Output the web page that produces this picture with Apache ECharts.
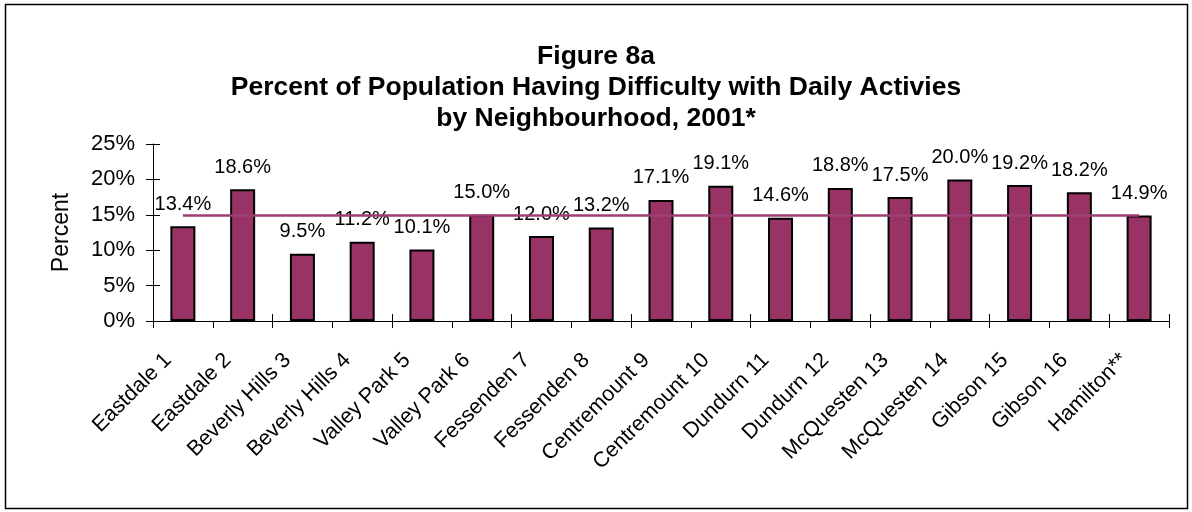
<!DOCTYPE html>
<html>
<head>
<meta charset="utf-8">
<script src="https://cdn.jsdelivr.net/npm/echarts@6/dist/echarts.min.js"></script>
<style>
html,body{margin:0;padding:0;background:#fff;}
#chart{width:1192px;height:512px;}
</style>
</head>
<body>
<div id="chart"></div>
<script>
var categories = ['Eastdale 1','Eastdale 2','Beverly Hills 3','Beverly Hills 4','Valley Park 5','Valley Park 6','Fessenden 7','Fessenden 8','Centremount 9','Centremount 10','Dundurn 11','Dundurn 12','McQuesten 13','McQuesten 14','Gibson 15','Gibson 16','Hamilton**'];
var percentValues = [13.4,18.6,9.5,11.2,10.1,15.0,12.0,13.2,17.1,19.1,14.6,18.8,17.5,20.0,19.2,18.2,14.9];
var hamiltonLine = [14.9,14.9,14.9,14.9,14.9,14.9,14.9,14.9,14.9,14.9,14.9,14.9,14.9,14.9,14.9,14.9,14.9];
var titleLines = ['Figure 8a','Percent of Population Having Difficulty with Daily Activies','by Neighbourhood, 2001*'];
var yTicks = {min:0, max:25, interval:5};

var FONT = "'Liberation Sans', Arial, sans-serif";
var chart = echarts.init(document.getElementById('chart'), null, {renderer:'canvas'});
var option = {
  animation:false,
  backgroundColor:'#fff',
  graphic:[{type:'rect', shape:{x:5.5,y:4.5,width:1182,height:504}, style:{fill:null, stroke:'#000', lineWidth:1.5}, silent:true, z:-1}],
  title:{
    text:titleLines.join('\n'),
    left:'center', top:36,
    textStyle:{fontFamily:FONT, fontSize:26.5, fontWeight:'bold', color:'#000', lineHeight:31}
  },
  grid:{left:153, right:23, top:144, bottom:191, containLabel:false},
  xAxis:[{
    type:'category', data:categories, boundaryGap:true,
    axisLine:{lineStyle:{color:'#000', width:1}},
    axisTick:{show:true, inside:false, length:7, lineStyle:{color:'#000'}},
    axisLabel:{rotate:45, interval:0, margin:21, fontFamily:FONT, fontSize:21.5, color:'#000', padding:[0,21,0,0]}
  },{
    type:'category', data:categories, boundaryGap:true, position:'bottom',
    axisLine:{show:false},
    axisTick:{show:true, inside:true, length:7, lineStyle:{color:'#000'}},
    axisLabel:{show:false}
  }],
  yAxis:[{
    type:'value', min:yTicks.min, max:yTicks.max, interval:yTicks.interval, position:'left',
    name:'Percent', nameLocation:'middle', nameGap:80,
    nameTextStyle:{fontFamily:FONT, fontSize:23, color:'#000'},
    axisLine:{show:true, lineStyle:{color:'#000', width:1}},
    axisTick:{show:true, inside:false, length:7, lineStyle:{color:'#000'}},
    axisLabel:{margin:18, fontFamily:FONT, fontSize:22, color:'#000', formatter:'{value}%'},
    splitLine:{show:false}
  },{
    type:'value', min:yTicks.min, max:yTicks.max, interval:yTicks.interval, position:'left',
    axisLine:{show:false},
    axisTick:{show:true, inside:true, length:7, lineStyle:{color:'#000'}},
    axisLabel:{show:false},
    splitLine:{show:false}
  }],
  series:[{
    type:'bar', data:percentValues, barWidth:25, xAxisIndex:0, yAxisIndex:0,
    itemStyle:{color:'#993366', borderColor:'#000', borderWidth:2},
    label:{show:true, position:'top', distance:12, fontFamily:FONT, fontSize:20, color:'#000',
      formatter:function(p){return p.value.toFixed(1)+'%';}},
    z:2
  },{
    type:'line', data:hamiltonLine, xAxisIndex:0, yAxisIndex:0,
    symbol:'none', lineStyle:{color:'#9c3f73', width:2.5}, z:3
  }]
};
chart.setOption(option);
</script>
</body>
</html>
